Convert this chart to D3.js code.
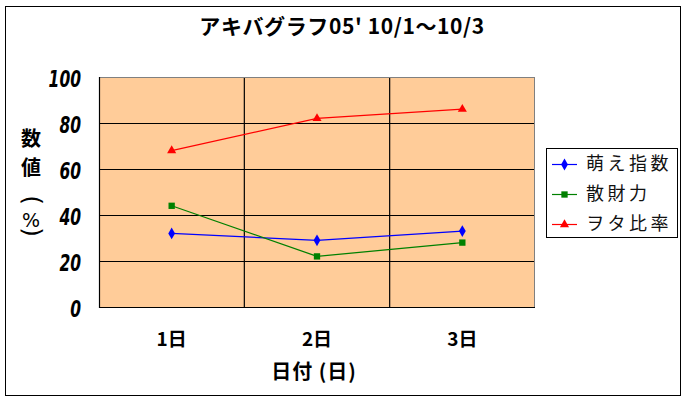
<!DOCTYPE html>
<html><head><meta charset="utf-8">
<script src="https://cdn.jsdelivr.net/npm/d3@7"></script>
<style>
html,body{margin:0;padding:0;background:#fff;}
svg{display:block;}
</style></head>
<body>
<script>
const categories = ["1日","2日","3日"];
const seriesNames = ["萌え指数","散財力","ヲタ比率"];
const moe = [32, 29, 33];
const sanzai = [44, 22, 28];
const wota = [68, 82, 86];
const yTicks = [0,20,40,60,80,100];
const titleText = "アキバグラフ05' 10/1～10/3";
const xTitle = "日付 (日)";
const yTitleChars = ["数","値","(","%",")"];

const colors = ["#0000FF","#008000","#FF0000"];
const symbols = [d3.symbolDiamond, d3.symbolSquare, d3.symbolTriangle];
const symSizes = [40, 40, 36];
const series = [moe, sanzai, wota];

const W = 684, H = 398;
const svg = d3.select("body").append("svg").attr("width", W).attr("height", H);
svg.append("rect").attr("x",5.5).attr("y",6.5).attr("width",675).attr("height",389)
  .attr("fill","#fff").attr("stroke","#000").attr("stroke-width",1);

const L = 99, R = 535, T = 77, B = 307;
const x = d3.scaleBand().domain(categories).range([L, R]);
const y = d3.scaleLinear().domain([0,100]).range([B, T]);

svg.append("rect").attr("x",L).attr("y",T).attr("width",R-L).attr("height",B-T).attr("fill","#FFCC99");

// horizontal gridlines + y labels
const yAxis = svg.append("g").attr("transform",`translate(${L},0)`)
  .call(d3.axisLeft(y).tickValues(yTicks).tickSize(-(R-L)).tickPadding(18).tickFormat(d3.format("d")));
yAxis.select(".domain").remove();
yAxis.selectAll(".tick line").attr("stroke","#000").attr("stroke-width",1.2);
yAxis.selectAll(".tick text")
  .attr("font-family","'DejaVu Sans Condensed','DejaVu Sans',sans-serif")
  .attr("font-weight","bold").attr("font-style","italic")
  .attr("font-size",23).attr("fill","#000").attr("dy","0.42em")
  .attr("textLength", function(){ return this.textContent.length*10.8; })
  .attr("lengthAdjust","spacingAndGlyphs");

// vertical band separators
svg.append("g").selectAll("line").data(categories.slice(0,-1)).join("line")
  .attr("x1",d=>x(d)+x.bandwidth()).attr("x2",d=>x(d)+x.bandwidth())
  .attr("y1",T).attr("y2",B).attr("stroke","#000").attr("stroke-width",1.2);

// plot borders
svg.append("line").attr("x1",L).attr("x2",R).attr("y1",T+0.5).attr("y2",T+0.5).attr("stroke","#808080");
svg.append("line").attr("x1",R-0.5).attr("x2",R-0.5).attr("y1",T).attr("y2",B).attr("stroke","#808080");
svg.append("line").attr("x1",L+0.5).attr("x2",L+0.5).attr("y1",T).attr("y2",B+1).attr("stroke","#000").attr("stroke-width",1.2);
svg.append("line").attr("x1",L).attr("x2",R).attr("y1",B+0.5).attr("y2",B+0.5).attr("stroke","#000").attr("stroke-width",1.2);

// x axis labels
const xAxis = svg.append("g").attr("transform",`translate(0,${B})`)
  .call(d3.axisBottom(x).tickSize(0).tickPadding(0));
xAxis.select(".domain").remove();
xAxis.selectAll(".tick text").attr("y",32).attr("dy","0.35em")
  .attr("font-family","'Noto Sans CJK JP',sans-serif").attr("font-weight","bold")
  .attr("font-size",19).attr("fill","#000");

// series
const line = d3.line().x((d,i)=>x(categories[i])+x.bandwidth()/2).y(d=>y(d));
series.forEach((s,k)=>{
  svg.append("path").datum(s).attr("d",line).attr("fill","none")
    .attr("stroke",colors[k]).attr("stroke-width",1.2);
  svg.append("g").selectAll("path").data(s).join("path")
    .attr("transform",(d,i)=>`translate(${x(categories[i])+x.bandwidth()/2},${y(d)})`)
    .attr("d",d3.symbol().type(symbols[k]).size(symSizes[k])).attr("fill",colors[k]);
});

// title
svg.append("text").attr("x",342).attr("y",27).attr("dy","0.35em").attr("text-anchor","middle")
  .attr("font-family","'Noto Sans CJK JP',sans-serif").attr("font-weight","bold")
  .attr("font-size",21).attr("letter-spacing",0.6).attr("fill","#000").text(titleText);

// x title
svg.append("text").attr("x",314).attr("y",372).attr("dy","0.35em").attr("text-anchor","middle")
  .attr("font-family","'Noto Sans CJK JP',sans-serif").attr("font-weight","bold")
  .attr("font-size",20).attr("letter-spacing",1).attr("fill","#000").text(xTitle);

// y title (stacked vertically; brackets turned sideways)
const yt = svg.append("g");
const cjk = "'Noto Sans CJK JP',sans-serif";
yt.append("text").attr("x",31).attr("y",139).attr("dy","0.35em").attr("text-anchor","middle")
  .attr("font-family",cjk).attr("font-weight","bold").attr("font-size",20).text(yTitleChars[0]);
yt.append("text").attr("x",31).attr("y",168).attr("dy","0.35em").attr("text-anchor","middle")
  .attr("font-family",cjk).attr("font-weight","bold").attr("font-size",20).text(yTitleChars[1]);
yt.append("text").attr("transform","translate(31,200) rotate(90)")
  .attr("dy","0.3em").attr("text-anchor","middle")
  .attr("font-family","'DejaVu Sans',sans-serif").attr("font-size",25).text(yTitleChars[2]);
yt.append("text").attr("x",31).attr("y",220).attr("dy","0.36em").attr("text-anchor","middle")
  .attr("font-family","'DejaVu Sans',sans-serif").attr("font-size",19).text(yTitleChars[3]);
yt.append("text").attr("transform","translate(31,232) rotate(90)")
  .attr("dy","0.3em").attr("text-anchor","middle")
  .attr("font-family","'DejaVu Sans',sans-serif").attr("font-size",25).text(yTitleChars[4]);

// legend
svg.append("rect").attr("x",546.5).attr("y",148.5).attr("width",131).attr("height",89)
  .attr("fill","#fff").attr("stroke","#000");
const rowY = [164, 194, 224];
seriesNames.forEach((n,k)=>{
  svg.append("line").attr("x1",552).attr("x2",577).attr("y1",rowY[k]+0.5).attr("y2",rowY[k]+0.5)
    .attr("stroke",colors[k]).attr("stroke-width",1.2);
  svg.append("path").attr("transform",`translate(564.5,${rowY[k]+0.5})`)
    .attr("d",d3.symbol().type(symbols[k]).size(symSizes[k])).attr("fill",colors[k]);
  svg.append("text").attr("x",586).attr("y",rowY[k]).attr("dy","0.36em")
    .attr("font-family",cjk).attr("font-size",18)
    .attr("letter-spacing",3.5).attr("fill","#111").text(n);
});
</script>
</body></html>
